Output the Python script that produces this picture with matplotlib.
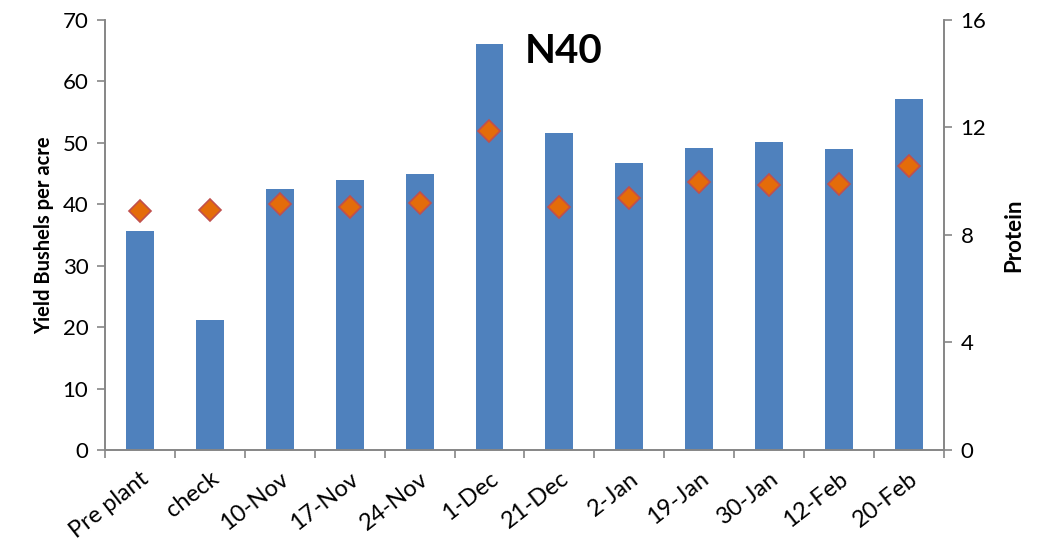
import matplotlib
matplotlib.use("Agg")
import matplotlib.pyplot as plt
import numpy as np

plt.rcParams['font.family'] = ['Lato', 'DejaVu Sans']

categories = ["Pre plant", "check", "10-Nov", "17-Nov", "24-Nov", "1-Dec",
              "21-Dec", "2-Jan", "19-Jan", "30-Jan", "12-Feb", "20-Feb"]
yield_bu = [35.6, 21.1, 42.5, 44.0, 44.9, 66.1, 51.6, 46.7, 49.2, 50.2, 49.0, 57.1]
protein = [8.88, 8.92, 9.15, 9.05, 9.18, 11.88, 9.04, 9.38, 9.96, 9.85, 9.88, 10.56]
yield_ticks = [0, 10, 20, 30, 40, 50, 60, 70]
protein_ticks = [0, 4, 8, 12, 16]

bar_color = "#4F81BD"
spine_color = "#868686"

fig = plt.figure(figsize=(10.58, 5.43), dpi=100)
ax = fig.add_axes([0.0992, 0.1713, 0.7930, 0.7919])
ax2 = ax.twinx()

x = np.arange(len(categories))
ax.bar(x, yield_bu, width=0.4, color=bar_color, zorder=2)
ax2.plot(x, protein, linestyle="none", marker="D", markersize=11,
         markerfacecolor="#E46C0A", markeredgecolor="#C0504D",
         markeredgewidth=1.2, zorder=3)

ax.set_xlim(-0.5, len(categories) - 0.5)
ax.set_ylim(0, 70)
ax2.set_ylim(0, 16)
ax.set_yticks(yield_ticks)
ax2.set_yticks(protein_ticks)

# category labels centred under bars, tick marks at category boundaries
ax.set_xticks(x)
ax.set_xticklabels(categories, rotation=38, ha="right", rotation_mode="anchor",
                   fontsize=17)
ax.set_xticks(np.arange(-0.5, len(categories)), minor=True)
ax.tick_params(axis="x", which="major", length=0, pad=13)
ax.tick_params(axis="x", which="minor", length=6, color=spine_color, width=1.2)
ax.tick_params(axis="y", labelsize=16, length=6, color=spine_color, width=1.2,
               pad=6)
ax2.tick_params(axis="y", labelsize=16, length=6, color=spine_color, width=1.2,
                pad=6)

for a in (ax, ax2):
    a.spines["top"].set_visible(False)
    for side in ("left", "right", "bottom"):
        a.spines[side].set_color(spine_color)
        a.spines[side].set_linewidth(1.2)

ax.set_ylabel("Yield Bushels per acre", fontsize=14.5, fontweight="bold",
              labelpad=6)
ax2.set_ylabel("Protein", fontsize=16, fontweight="bold", labelpad=12)

ax.text(0.547, 0.926, "N40", transform=ax.transAxes, ha="center",
        va="center", fontsize=29, fontweight="bold")

fig.savefig("out.png", dpi=100)
